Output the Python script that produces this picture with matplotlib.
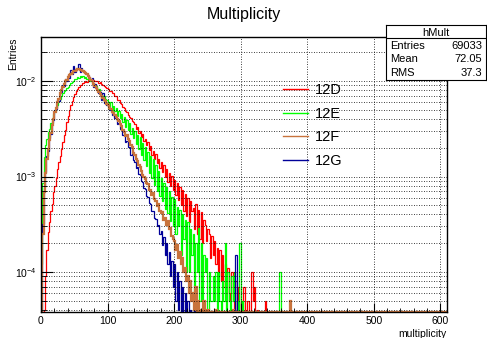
import numpy as np
import matplotlib
matplotlib.use("Agg")
import matplotlib.pyplot as plt
from matplotlib.ticker import MultipleLocator, LogLocator, NullFormatter
from matplotlib.lines import Line2D

plt.rcParams['font.family'] = ['Liberation Sans', 'DejaVu Sans']

# --- histogram contents, bin width 2 starting at 0, units of 1e-5 ---

bin_width = 2
x_max = 610

labels = ["12D", "12E", "12F", "12G"]

red = [
    0, 0, 4, 9, 17, 26, 33, 44, 52, 68,
    80, 96, 121, 142, 163, 196, 228, 270, 305, 372,
    435, 494, 566, 622, 688, 724, 795, 826, 862, 905,
    918, 962, 968, 1004, 985, 1027, 1006, 1043, 1018, 1031,
    1012, 995, 1014, 958, 975, 928, 921, 884, 876, 853,
    836, 796, 792, 748, 742, 698, 693, 641, 628, 587,
    574, 536, 525, 487, 476, 446, 424, 412, 378, 372,
    351, 318, 328, 286, 303, 258, 276, 238, 248, 212,
    228, 191, 207, 168, 187, 152, 173, 138, 153, 123,
    142, 112, 131, 99, 121, 88, 109, 80, 101, 72,
    92, 64, 85, 57, 78, 50, 72, 44, 66, 39,
    60, 33, 55, 44, 47, 28, 51, 25, 45, 22,
    42, 20, 35, 31, 21, 28, 25, 14, 24, 15,
    21, 12, 18, 9, 17, 8, 15, 7, 12, 6,
    11, 5, 6, 10, 5, 4, 8, 4, 7, 3,
    5, 0, 7, 4, 0, 5, 3, 0, 10, 5,
    7, 0, 4, 0, 0, 0, 0, 0, 5, 0,
]

green = [
    12, 85, 160, 215, 245, 296, 318, 368, 404, 452,
    486, 534, 566, 622, 655, 694, 745, 781, 806, 852,
    874, 921, 946, 987, 996, 1043, 1046, 1092, 1074, 1128,
    1095, 1136, 1087, 1112, 1056, 1068, 1004, 1018, 957, 946,
    886, 893, 826, 818, 768, 757, 706, 693, 652, 628,
    604, 553, 603, 502, 548, 483, 522, 432, 488, 409,
    452, 371, 418, 332, 392, 308, 361, 282, 326, 252,
    301, 218, 272, 195, 258, 168, 224, 148, 203, 128,
    182, 108, 166, 96, 151, 82, 131, 70, 115, 62,
    96, 56, 86, 46, 78, 41, 70, 34, 61, 30,
    58, 25, 48, 30, 45, 15, 40, 22, 35, 10,
    33, 10, 28, 15, 25, 5, 20, 10, 29, 5,
    20, 5, 15, 10, 14, 0, 10, 5, 5, 9,
    5, 10, 0, 10, 5, 0, 8, 5, 20, 0,
    10, 5, 0, 9, 5, 10, 0, 5, 0, 20,
    0, 5, 0, 0, 0, 0, 0, 0, 0, 0,
    0, 0, 0, 0, 0, 0, 0, 0, 0, 0,
]

brown = [
    2, 25, 68, 108, 152, 193, 243, 286, 348, 398,
    472, 527, 603, 655, 742, 806, 874, 925, 993, 1036,
    1104, 1146, 1195, 1226, 1264, 1286, 1315, 1327, 1336, 1318,
    1305, 1276, 1254, 1206, 1174, 1125, 1086, 1037, 995, 938,
    884, 838, 804, 762, 733, 696, 671, 635, 612, 578,
    557, 526, 509, 480, 463, 437, 423, 398, 384, 354,
    335, 307, 291, 267, 272, 249, 236, 216, 206, 177,
    168, 152, 146, 131, 126, 113, 104, 98, 95, 86,
    84, 73, 73, 64, 67, 58, 55, 49, 52, 43,
    41, 42, 35, 37, 31, 34, 28, 29, 24, 22,
    21, 17, 19, 14, 16, 12, 14, 10, 11, 8,
    9, 6, 8, 5, 6, 4, 7, 3, 5, 0,
    4, 0, 5, 3, 0, 4, 0, 0, 3, 0,
    0, 4, 0, 0, 0, 3, 0, 0, 0, 0,
    0, 0, 0, 0, 4, 0, 0, 0, 0, 0,
    0, 0, 0, 0, 0, 0, 0, 0, 0, 0,
    0, 0, 0, 0, 0, 0, 0, 0, 0, 0,
]

blue = [
    0, 32, 78, 112, 165, 186, 255, 282, 362, 390,
    492, 505, 628, 618, 784, 772, 915, 894, 1052, 995,
    1168, 1072, 1316, 1195, 1452, 1236, 1388, 1345, 1506, 1256,
    1364, 1282, 1246, 1228, 1196, 1124, 1106, 1016, 1078, 874,
    935, 826, 806, 748, 762, 628, 742, 586, 612, 560,
    554, 492, 504, 444, 452, 412, 404, 352, 366, 312,
    308, 272, 276, 232, 238, 202, 206, 168, 172, 148,
    142, 122, 126, 105, 104, 90, 88, 75, 74, 62,
    61, 53, 52, 43, 44, 37, 36, 30, 31, 25,
    27, 19, 23, 15, 20, 12, 16, 9, 13, 7,
    12, 5, 10, 4, 8, 0, 7, 3, 6, 0,
    5, 0, 4, 0, 0, 4, 0, 0, 3, 0,
    0, 0, 0, 4, 0, 0, 0, 0, 0, 0,
    0, 0, 0, 0, 0, 3, 0, 0, 0, 0,
    0, 0, 0, 0, 0, 0, 15, 0, 0, 0,
    0, 0, 0, 0, 0, 0, 0, 0, 0, 0,
    0, 0, 0, 0, 0, 0, 0, 0, 0, 0,
]

# isolated entries further out: bin start -> content (1e-5)
red_extra = {}
green_extra = {358: 10}
brown_extra = {374: 5}
blue_extra = {}

stats_name = "hMult"
stats_rows = [("Entries", "69033"), ("Mean", "72.05"), ("RMS", "37.3")]

# --- build full histograms ---

edges = np.arange(0, x_max + bin_width, bin_width)
n_bins = len(edges) - 1
y_min, y_max = 3.8e-5, 0.029


def full_hist(vals, extra):
    h = np.zeros(n_bins)
    h[:len(vals)] = vals
    for x, v in extra.items():
        h[x // bin_width] = v
    h = h * 1e-5
    return np.clip(h, y_min, None)


colors = {"12D": "#ff0000", "12E": "#00ff00", "12F": "#c8733c", "12G": "#000099"}

series = [
    ("12D", full_hist(red, red_extra), 0.9),
    ("12E", full_hist(green, green_extra), 0.9),
    ("12G", full_hist(blue, blue_extra), 0.9),
    ("12F", full_hist(brown, brown_extra), 1.6),
]

# --- plot ---

fig = plt.figure(figsize=(4.87, 3.38), dpi=100)
ax = fig.add_axes([41 / 487, 26 / 338, 406 / 487, 275 / 338])

for lab, h, lw in series:
    ax.stairs(h, edges, color=colors[lab], lw=lw, baseline=None)

ax.set_yscale("log")
ax.set_xlim(0, x_max)
ax.set_ylim(y_min, y_max)

ax.xaxis.set_major_locator(MultipleLocator(100))
ax.xaxis.set_minor_locator(MultipleLocator(20))
ax.yaxis.set_major_locator(LogLocator(base=10))
ax.yaxis.set_minor_locator(LogLocator(base=10, subs=np.arange(2, 10)))
ax.yaxis.set_minor_formatter(NullFormatter())

ax.tick_params(axis="x", which="major", direction="in", length=6.5, labelsize=7.5, pad=3)
ax.tick_params(axis="x", which="minor", direction="in", length=3.2)
ax.tick_params(axis="y", which="major", direction="in", length=8.5, labelsize=7.5, pad=3)
ax.tick_params(axis="y", which="minor", direction="in", length=4.3)

ax.grid(True, which="major", axis="x", color="k", ls=(0, (1, 2)), lw=0.6)
ax.grid(True, which="both", axis="y", color="k", ls=(0, (1, 2)), lw=0.6)

for sp in ax.spines.values():
    sp.set_linewidth(1.0)

ax.set_xlabel("multiplicity", loc="right", fontsize=7.5, labelpad=2)
ax.set_ylabel("Entries", loc="top", fontsize=7.5)
ax.yaxis.set_label_coords(-0.057, 1.0)

fig.text(0.5, 1 - 15 / 338, "Multiplicity", ha="center", va="center", fontsize=11.5)

# legend in ROOT order
leg_handles = [Line2D([], [], color=colors[l], lw=1.0) for l in labels]
ax.legend(leg_handles, labels, loc="upper left",
          bbox_to_anchor=(283 / 487, 1 - 83 / 338), bbox_transform=fig.transFigure,
          frameon=False, fontsize=10.5, handlelength=1.7, handletextpad=0.5,
          labelspacing=0.66, borderpad=0, borderaxespad=0)

# stats box
sax = fig.add_axes([386 / 487, 1 - 80 / 338, 100 / 487, 55 / 338])
sax.set_xlim(0, 1)
sax.set_ylim(0, 1)
sax.set_xticks([])
sax.set_yticks([])
sax.axhline(1 - 12.7 / 55, color="k", lw=0.8)
sax.text(0.5, 1 - 7.5 / 55, stats_name, ha="center", va="center", fontsize=8)
for i, (k, v) in enumerate(stats_rows):
    yy = 1 - (21 + 13.5 * i) / 55
    sax.text(0.04, yy, k, ha="left", va="center", fontsize=8)
    sax.text(0.96, yy, v, ha="right", va="center", fontsize=8)

fig.savefig("out.png", dpi=100)
